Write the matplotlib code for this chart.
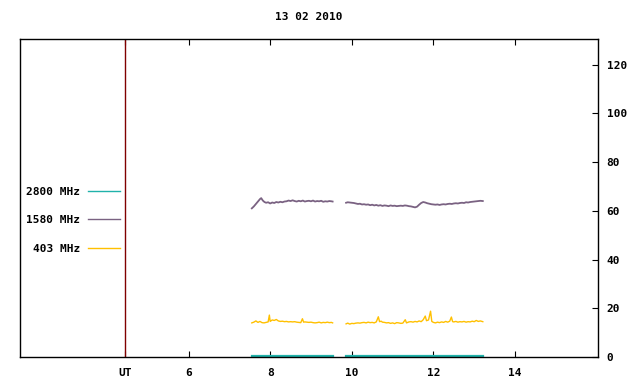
import numpy as np
import matplotlib
matplotlib.use("Agg")
import matplotlib.pyplot as plt

nan = np.nan
title = "13 02 2010"
xtick_vals = [4.45, 6, 8, 10, 12, 14]
xtick_labels = ["UT", "6", "8", "10", "12", "14"]
ytick_vals = [0, 20, 40, 60, 80, 100, 120]

# 1580 MHz (purple)
t1580 = [7.55, 7.60, 7.65, 7.70, 7.75, 7.78, 7.82, 7.86, 7.90, 7.95, 8.00, 8.05, 8.10, 8.15,
         8.20, 8.25, 8.30, 8.35, 8.40, 8.45, 8.50, 8.55, 8.60, 8.65, 8.70, 8.75, 8.80, 8.85,
         8.90, 8.95, 9.00, 9.05, 9.10, 9.15, 9.20, 9.25, 9.30, 9.35, 9.40, 9.45, 9.50, 9.53,
         nan,
         9.86, 9.90, 9.95, 10.00, 10.05, 10.10, 10.15, 10.20, 10.25, 10.30, 10.35, 10.40, 10.45,
         10.50, 10.55, 10.60, 10.65, 10.70, 10.75, 10.80, 10.85, 10.90, 10.95, 11.00, 11.05,
         11.10, 11.15, 11.20, 11.25, 11.30, 11.35, 11.40, 11.45, 11.50, 11.55, 11.60, 11.65,
         11.70, 11.75, 11.80, 11.85, 11.90, 11.95, 12.00, 12.05, 12.10, 12.15, 12.20, 12.25,
         12.30, 12.35, 12.40, 12.45, 12.50, 12.55, 12.60, 12.65, 12.70, 12.75, 12.80, 12.85,
         12.90, 12.95, 13.00, 13.05, 13.10, 13.15, 13.21]
v1580 = [61.0, 61.8, 62.8, 63.8, 64.8, 65.2, 64.2, 63.6, 63.3, 63.5, 63.0, 63.4, 63.2, 63.6,
         63.4, 63.7, 63.5, 63.8, 63.9, 64.2, 64.0, 64.3, 64.0, 63.8, 64.1, 63.9, 64.2, 63.8,
         64.0, 64.1, 63.9, 64.2, 63.8, 64.0, 63.9, 64.1, 63.7, 63.9, 63.8, 64.0, 63.9, 63.8,
         nan,
         63.3, 63.5, 63.4, 63.3, 63.2, 63.0, 62.8, 62.9, 62.6, 62.7, 62.5, 62.6, 62.3,
         62.5, 62.2, 62.4, 62.1, 62.3, 62.0, 62.2, 62.1, 61.9, 62.2, 62.0, 62.1,
         61.9, 62.0, 62.1, 62.0, 62.2, 62.1, 61.9, 61.8, 61.6, 61.4, 61.7, 62.5,
         63.2, 63.6, 63.4, 63.1, 62.9, 62.7, 62.6, 62.5, 62.6, 62.4, 62.6, 62.7,
         62.6, 62.8, 62.9, 62.8, 63.0, 63.1, 63.0, 63.2, 63.3, 63.2, 63.5, 63.4,
         63.6, 63.7, 63.8, 63.9, 64.0, 64.1, 64.0]

# 403 MHz (orange)
t403 = [7.55, 7.60, 7.65, 7.70, 7.75, 7.80, 7.85, 7.90, 7.95, 7.98, 8.00, 8.05, 8.10, 8.15,
        8.20, 8.25, 8.30, 8.35, 8.40, 8.45, 8.50, 8.55, 8.60, 8.65, 8.70, 8.75, 8.79, 8.82,
        8.85, 8.90, 8.95, 9.00, 9.05, 9.10, 9.15, 9.20, 9.25, 9.30, 9.35, 9.40, 9.45, 9.50, 9.53,
        nan,
        9.86, 9.90, 9.95, 10.00, 10.05, 10.10, 10.15, 10.20, 10.25, 10.30, 10.35, 10.40, 10.45,
        10.50, 10.55, 10.60, 10.65, 10.68, 10.72, 10.75, 10.80, 10.85, 10.90, 10.95, 11.00,
        11.05, 11.10, 11.15, 11.20, 11.25, 11.31, 11.34, 11.40, 11.45, 11.50, 11.55, 11.60,
        11.65, 11.70, 11.75, 11.80, 11.83, 11.88, 11.93, 11.96, 12.00, 12.05, 12.10, 12.15,
        12.20, 12.25, 12.30, 12.35, 12.40, 12.44, 12.47, 12.50, 12.55, 12.60, 12.65, 12.70,
        12.75, 12.80, 12.85, 12.90, 12.95, 13.00, 13.05, 13.10, 13.15, 13.21]
v403 = [14.0, 14.3, 14.8, 14.2, 14.6, 14.1, 14.0, 14.2, 14.4, 17.2, 14.6, 15.2, 15.0, 15.4,
        14.8, 14.6, 14.7, 14.5, 14.6, 14.4, 14.5, 14.4, 14.5, 14.3, 14.2, 14.1, 15.7, 14.3,
        14.4, 14.3, 14.2, 14.3, 14.1, 14.0, 14.1, 14.3, 14.0, 14.2, 14.1, 14.3, 14.1, 14.2, 14.0,
        nan,
        13.6, 13.9, 13.5, 13.8, 13.7, 13.9, 14.0, 13.9, 14.1, 14.2, 14.0, 14.3, 14.1,
        14.2, 14.0, 14.4, 16.5, 14.5, 14.7, 14.3, 14.2, 14.0, 14.1, 13.8, 14.0,
        13.7, 14.1, 14.0, 13.8, 13.9, 15.3, 14.0, 14.4, 14.5, 14.3, 14.6, 14.4,
        14.8, 14.5, 15.3, 16.8, 14.9, 15.2, 18.8, 14.6, 14.2, 14.0, 14.3, 14.1,
        14.4, 14.2, 14.6, 14.3, 14.7, 16.4, 14.5, 14.4, 14.6, 14.3, 14.5, 14.4,
        14.6, 14.3, 14.5, 14.4, 14.7, 14.5, 15.0, 14.6, 14.8, 14.5]

# 2800 MHz (teal)
t2800 = [7.55, 9.53, nan, 9.86, 13.21]
v2800 = [0.4, 0.4, nan, 0.4, 0.4]

c2800 = "#20b2aa"
c1580 = "#7a6282"
c403 = "#ffc000"

font = {"family": "DejaVu Sans Mono", "weight": "bold", "size": 8}

fig = plt.figure(figsize=(6.4, 3.84), dpi=100)
ax = fig.add_axes([20 / 640, 1 - 357 / 384, (598.3 - 20) / 640, (357 - 39) / 384])

ax.plot(t2800, v2800, color=c2800, lw=1.6, label="2800 MHz")
ax.plot(t1580, v1580, color=c1580, lw=1.3, label="1580 MHz")
ax.plot(t403, v403, color=c403, lw=1.0, label="403 MHz")
ax.axvline(xtick_vals[0], color="#800000", lw=1.0)

ax.set_xlim(1.87, 16.04)
ax.set_ylim(0, 130.5)

ax.yaxis.tick_right()
ax.set_yticks(ytick_vals)
ax.set_yticklabels([str(v) for v in ytick_vals], fontdict=font)
ax.set_xticks(xtick_vals)
ax.set_xticklabels(xtick_labels, fontdict=font)
ax.tick_params(axis="x", direction="in", length=4, width=0.8, top=True, bottom=True, pad=8)
ax.tick_params(axis="y", direction="in", length=4, width=0.8, right=True, left=False, pad=6)
for s in ax.spines.values():
    s.set_linewidth(1.0)

ax.set_title(title, fontdict=font, pad=14)

leg = ax.legend(loc="upper left", bbox_to_anchor=(-0.003, 0.56), frameon=False,
                markerfirst=False, handlelength=2.9, handletextpad=0.7,
                labelspacing=1.68, prop={"family": "DejaVu Sans Mono", "weight": "bold", "size": 8},
                borderaxespad=0.3)
for line in leg.get_lines():
    line.set_linewidth(1.0)
for txt in leg.get_texts():
    txt.set_ha("right")

fig.savefig("out.png", dpi=100)
